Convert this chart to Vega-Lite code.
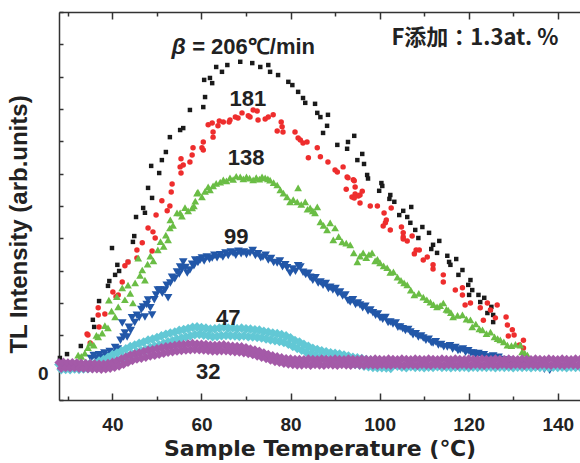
{
"$schema": "https://vega.github.io/schema/vega-lite/v6.json",
"width": 521, "height": 388,
"autosize": {"type": "none"},
"padding": {"left": 59, "top": 12, "right": 0, "bottom": 63},
"background": "white",
"config": {"view": {"stroke": null},
 "axis": {"domainColor": "#333", "domainWidth": 1.5, "tickColor": "#333", "tickWidth": 1.5, "grid": false,
  "labelFont": "Liberation Sans", "labelFontWeight": "bold", "labelFontSize": 19, "labelColor": "#222",
  "titleFont": "Liberation Sans", "titleFontWeight": "bold", "titleFontSize": 24, "titleColor": "#222"}},
"datasets": {
"pts": [
{"s":"206","x":28.2,"y":0.30},{"s":"206","x":29.8,"y":0.42},{"s":"206","x":32.9,"y":0.67},{"s":"206","x":35.6,"y":1.48},{"s":"206","x":35.9,"y":1.26},{"s":"206","x":37.0,"y":2.06},{"s":"206","x":39.0,"y":2.53},{"s":"206","x":39.3,"y":2.68},{"s":"206","x":39.9,"y":3.70},{"s":"206","x":40.6,"y":2.87},{"s":"206","x":41.1,"y":3.18},{"s":"206","x":41.5,"y":2.99},{"s":"206","x":43.5,"y":3.27},{"s":"206","x":44.6,"y":3.89},{"s":"206","x":44.9,"y":4.07},{"s":"206","x":45.3,"y":4.66},{"s":"206","x":46.9,"y":4.94},{"s":"206","x":47.3,"y":4.79},{"s":"206","x":48.0,"y":5.56},{"s":"206","x":48.9,"y":5.25},{"s":"206","x":48.7,"y":6.24},{"s":"206","x":50.5,"y":6.02},{"s":"206","x":51.1,"y":6.42},{"s":"206","x":52.0,"y":6.67},{"s":"206","x":52.9,"y":7.13},{"s":"206","x":55.2,"y":7.35},{"s":"206","x":55.9,"y":7.41},{"s":"206","x":57.4,"y":7.97},{"s":"206","x":60.4,"y":8.06},{"s":"206","x":60.8,"y":8.37},{"s":"206","x":60.6,"y":8.90},{"s":"206","x":61.9,"y":8.96},{"s":"206","x":62.4,"y":8.80},{"s":"206","x":63.3,"y":9.30},{"s":"206","x":64.6,"y":9.15},{"s":"206","x":65.8,"y":9.36},{"s":"206","x":68.7,"y":9.46},{"s":"206","x":71.4,"y":9.42},{"s":"206","x":73.2,"y":9.30},{"s":"206","x":75.0,"y":9.36},{"s":"206","x":75.4,"y":9.15},{"s":"206","x":77.2,"y":9.05},{"s":"206","x":79.5,"y":8.84},{"s":"206","x":80.4,"y":8.74},{"s":"206","x":81.7,"y":8.53},{"s":"206","x":82.8,"y":8.34},{"s":"206","x":83.3,"y":8.19},{"s":"206","x":85.5,"y":8.16},{"s":"206","x":86.0,"y":7.88},{"s":"206","x":86.7,"y":7.75},{"s":"206","x":88.4,"y":7.82},{"s":"206","x":88.2,"y":7.48},{"s":"206","x":87.3,"y":7.26},{"s":"206","x":90.5,"y":6.89},{"s":"206","x":92.9,"y":6.98},{"s":"206","x":92.7,"y":6.77},{"s":"206","x":94.3,"y":7.17},{"s":"206","x":96.1,"y":6.61},{"s":"206","x":95.0,"y":6.42},{"s":"206","x":96.5,"y":6.30},{"s":"206","x":97.2,"y":5.96},{"s":"206","x":97.4,"y":5.85},{"s":"206","x":100.4,"y":5.71},{"s":"206","x":100.6,"y":5.62},{"s":"206","x":99.9,"y":5.47},{"s":"206","x":102.4,"y":5.34},{"s":"206","x":102.2,"y":5.22},{"s":"206","x":103.3,"y":5.13},{"s":"206","x":105.3,"y":4.85},{"s":"206","x":107.1,"y":4.97},{"s":"206","x":104.4,"y":4.72},{"s":"206","x":106.2,"y":4.66},{"s":"206","x":106.9,"y":4.48},{"s":"206","x":109.6,"y":4.35},{"s":"206","x":108.0,"y":4.26},{"s":"206","x":111.1,"y":4.17},{"s":"206","x":108.7,"y":4.01},{"s":"206","x":113.4,"y":3.92},{"s":"206","x":112.0,"y":3.80},{"s":"206","x":111.6,"y":3.67},{"s":"206","x":112.9,"y":3.55},{"s":"206","x":115.2,"y":3.46},{"s":"206","x":117.2,"y":3.36},{"s":"206","x":115.6,"y":3.27},{"s":"206","x":115.9,"y":3.18},{"s":"206","x":118.6,"y":3.02},{"s":"206","x":117.7,"y":2.87},{"s":"206","x":120.4,"y":2.71},{"s":"206","x":119.9,"y":2.56},{"s":"206","x":120.8,"y":2.40},{"s":"206","x":120.1,"y":2.25},{"s":"206","x":122.2,"y":2.25},{"s":"206","x":123.5,"y":2.16},{"s":"206","x":122.6,"y":2.03},{"s":"206","x":125.1,"y":1.88},{"s":"206","x":124.9,"y":1.78},{"s":"206","x":124.2,"y":1.69},{"s":"206","x":125.5,"y":1.63},{"s":"206","x":125.5,"y":1.41},
{"s":"181","x":34.3,"y":1.04},{"s":"181","x":34.5,"y":1.01},{"s":"181","x":35.0,"y":0.76},{"s":"181","x":36.8,"y":1.85},{"s":"181","x":36.8,"y":1.63},{"s":"181","x":37.0,"y":1.26},{"s":"181","x":38.3,"y":1.66},{"s":"181","x":40.1,"y":2.34},{"s":"181","x":40.8,"y":2.19},{"s":"181","x":41.3,"y":2.25},{"s":"181","x":42.2,"y":2.65},{"s":"181","x":42.8,"y":3.15},{"s":"181","x":43.5,"y":3.27},{"s":"181","x":45.5,"y":3.64},{"s":"181","x":45.5,"y":3.39},{"s":"181","x":46.7,"y":3.86},{"s":"181","x":48.0,"y":4.32},{"s":"181","x":48.9,"y":3.61},{"s":"181","x":49.1,"y":4.20},{"s":"181","x":49.6,"y":4.01},{"s":"181","x":49.8,"y":4.72},{"s":"181","x":51.1,"y":5.16},{"s":"181","x":52.3,"y":4.85},{"s":"181","x":52.9,"y":5.00},{"s":"181","x":53.2,"y":5.43},{"s":"181","x":53.4,"y":5.68},{"s":"181","x":55.4,"y":6.46},{"s":"181","x":55.4,"y":6.02},{"s":"181","x":55.2,"y":6.21},{"s":"181","x":55.9,"y":6.27},{"s":"181","x":57.4,"y":6.36},{"s":"181","x":57.9,"y":6.58},{"s":"181","x":58.1,"y":6.80},{"s":"181","x":60.1,"y":6.80},{"s":"181","x":60.4,"y":6.98},{"s":"181","x":60.4,"y":6.73},{"s":"181","x":61.5,"y":7.51},{"s":"181","x":62.4,"y":7.57},{"s":"181","x":62.6,"y":7.29},{"s":"181","x":62.6,"y":7.13},{"s":"181","x":63.7,"y":7.48},{"s":"181","x":64.0,"y":7.63},{"s":"181","x":64.9,"y":7.60},{"s":"181","x":66.2,"y":7.60},{"s":"181","x":66.4,"y":7.66},{"s":"181","x":67.6,"y":7.75},{"s":"181","x":68.2,"y":7.72},{"s":"181","x":69.1,"y":7.88},{"s":"181","x":70.5,"y":7.79},{"s":"181","x":70.9,"y":7.75},{"s":"181","x":71.6,"y":7.97},{"s":"181","x":72.5,"y":7.94},{"s":"181","x":72.7,"y":7.66},{"s":"181","x":74.3,"y":7.69},{"s":"181","x":75.0,"y":7.75},{"s":"181","x":76.1,"y":7.82},{"s":"181","x":77.0,"y":7.32},{"s":"181","x":77.9,"y":7.60},{"s":"181","x":78.1,"y":7.45},{"s":"181","x":78.3,"y":7.29},{"s":"181","x":81.0,"y":7.29},{"s":"181","x":81.7,"y":7.10},{"s":"181","x":82.2,"y":7.04},{"s":"181","x":82.8,"y":6.95},{"s":"181","x":83.7,"y":6.98},{"s":"181","x":84.0,"y":6.49},{"s":"181","x":86.0,"y":6.80},{"s":"181","x":86.7,"y":6.52},{"s":"181","x":88.4,"y":6.36},{"s":"181","x":90.0,"y":6.11},{"s":"181","x":90.5,"y":6.05},{"s":"181","x":91.8,"y":6.21},{"s":"181","x":92.7,"y":5.90},{"s":"181","x":92.9,"y":5.87},{"s":"181","x":92.5,"y":5.52},{"s":"181","x":94.1,"y":5.81},{"s":"181","x":94.3,"y":5.78},{"s":"181","x":94.5,"y":5.59},{"s":"181","x":93.8,"y":5.28},{"s":"181","x":94.5,"y":5.37},{"s":"181","x":95.2,"y":5.31},{"s":"181","x":94.3,"y":5.25},{"s":"181","x":95.6,"y":5.34},{"s":"181","x":96.1,"y":5.46},{"s":"181","x":95.6,"y":5.09},{"s":"181","x":97.9,"y":5.00},{"s":"181","x":99.5,"y":5.00},{"s":"181","x":101.0,"y":4.78},{"s":"181","x":101.5,"y":4.57},{"s":"181","x":101.3,"y":4.48},{"s":"181","x":100.8,"y":4.38},{"s":"181","x":102.6,"y":4.94},{"s":"181","x":102.4,"y":4.26},{"s":"181","x":104.9,"y":4.35},{"s":"181","x":105.3,"y":4.17},{"s":"181","x":105.3,"y":4.04},{"s":"181","x":105.3,"y":3.98},{"s":"181","x":106.2,"y":3.92},{"s":"181","x":107.3,"y":4.07},{"s":"181","x":108.2,"y":3.64},{"s":"181","x":108.9,"y":3.64},{"s":"181","x":107.8,"y":3.52},{"s":"181","x":110.7,"y":3.42},{"s":"181","x":109.8,"y":3.33},{"s":"181","x":112.0,"y":3.18},{"s":"181","x":112.0,"y":3.05},{"s":"181","x":114.3,"y":2.87},{"s":"181","x":114.3,"y":2.65},{"s":"181","x":117.0,"y":2.40},{"s":"181","x":118.6,"y":2.47},{"s":"181","x":118.6,"y":2.25},{"s":"181","x":120.4,"y":2.00},{"s":"181","x":119.2,"y":1.94},{"s":"181","x":122.6,"y":1.85},{"s":"181","x":124.2,"y":2.00},{"s":"181","x":124.9,"y":1.78},{"s":"181","x":126.4,"y":1.94},{"s":"181","x":123.3,"y":1.47},{"s":"181","x":126.0,"y":1.54},{"s":"181","x":128.4,"y":1.57},{"s":"181","x":128.7,"y":1.32},{"s":"181","x":129.8,"y":1.17},{"s":"181","x":130.2,"y":1.01},{"s":"181","x":128.9,"y":0.98},{"s":"181","x":132.3,"y":0.85},{"s":"181","x":131.4,"y":0.70},{"s":"181","x":132.3,"y":0.61},
{"s":"138","x":32.3,"y":0.39},{"s":"138","x":33.0,"y":0.35},{"s":"138","x":33.8,"y":0.45},{"s":"138","x":34.5,"y":0.62},{"s":"138","x":35.0,"y":0.76},{"s":"138","x":35.8,"y":0.70},{"s":"138","x":36.4,"y":1.00},{"s":"138","x":36.8,"y":0.95},{"s":"138","x":37.7,"y":1.07},{"s":"138","x":38.3,"y":1.30},{"s":"138","x":39.0,"y":1.23},{"s":"138","x":39.2,"y":2.09},{"s":"138","x":39.8,"y":1.75},{"s":"138","x":40.6,"y":1.57},{"s":"138","x":41.0,"y":2.20},{"s":"138","x":41.3,"y":1.88},{"s":"138","x":42.2,"y":2.47},{"s":"138","x":42.8,"y":2.10},{"s":"138","x":43.5,"y":2.55},{"s":"138","x":44.0,"y":2.30},{"s":"138","x":44.6,"y":2.00},{"s":"138","x":45.1,"y":2.62},{"s":"138","x":45.8,"y":3.39},{"s":"138","x":46.2,"y":2.85},{"s":"138","x":46.7,"y":3.02},{"s":"138","x":47.3,"y":2.71},{"s":"138","x":47.9,"y":3.20},{"s":"138","x":48.5,"y":3.45},{"s":"138","x":49.2,"y":3.30},{"s":"138","x":50.2,"y":3.64},{"s":"138","x":50.8,"y":3.90},{"s":"138","x":51.5,"y":3.75},{"s":"138","x":52.0,"y":4.10},{"s":"138","x":52.5,"y":3.95},{"s":"138","x":52.9,"y":4.32},{"s":"138","x":53.0,"y":4.57},{"s":"138","x":53.6,"y":4.40},{"s":"138","x":54.5,"y":4.79},{"s":"138","x":55.2,"y":4.79},{"s":"138","x":55.6,"y":4.69},{"s":"138","x":56.3,"y":4.95},{"s":"138","x":57.0,"y":4.85},{"s":"138","x":57.9,"y":4.94},{"s":"138","x":58.3,"y":5.00},{"s":"138","x":58.6,"y":5.15},{"s":"138","x":59.0,"y":5.40},{"s":"138","x":59.2,"y":5.43},{"s":"138","x":60.1,"y":5.28},{"s":"138","x":60.8,"y":5.45},{"s":"138","x":61.5,"y":5.59},{"s":"138","x":61.9,"y":5.50},{"s":"138","x":62.6,"y":5.62},{"s":"138","x":63.3,"y":5.70},{"s":"138","x":64.2,"y":5.74},{"s":"138","x":64.9,"y":5.81},{"s":"138","x":65.6,"y":5.78},{"s":"138","x":66.4,"y":5.87},{"s":"138","x":67.1,"y":5.82},{"s":"138","x":67.8,"y":5.92},{"s":"138","x":68.7,"y":5.90},{"s":"138","x":69.4,"y":5.84},{"s":"138","x":70.1,"y":5.90},{"s":"138","x":70.8,"y":5.86},{"s":"138","x":71.6,"y":5.81},{"s":"138","x":72.3,"y":5.88},{"s":"138","x":73.0,"y":5.83},{"s":"138","x":73.6,"y":5.90},{"s":"138","x":74.3,"y":5.87},{"s":"138","x":74.9,"y":5.84},{"s":"138","x":75.4,"y":5.80},{"s":"138","x":76.2,"y":5.72},{"s":"138","x":77.0,"y":5.65},{"s":"138","x":77.7,"y":5.50},{"s":"138","x":78.4,"y":5.40},{"s":"138","x":79.2,"y":5.28},{"s":"138","x":79.9,"y":5.13},{"s":"138","x":80.6,"y":5.20},{"s":"138","x":81.5,"y":5.13},{"s":"138","x":81.7,"y":5.56},{"s":"138","x":82.4,"y":5.05},{"s":"138","x":83.3,"y":5.13},{"s":"138","x":83.8,"y":4.90},{"s":"138","x":84.4,"y":4.94},{"s":"138","x":85.0,"y":4.85},{"s":"138","x":85.5,"y":4.79},{"s":"138","x":86.0,"y":4.97},{"s":"138","x":86.7,"y":4.51},{"s":"138","x":87.4,"y":4.40},{"s":"138","x":88.2,"y":4.26},{"s":"138","x":88.9,"y":4.48},{"s":"138","x":89.6,"y":3.95},{"s":"138","x":90.0,"y":4.32},{"s":"138","x":90.8,"y":4.05},{"s":"138","x":91.6,"y":3.89},{"s":"138","x":92.5,"y":3.85},{"s":"138","x":93.4,"y":3.80},{"s":"138","x":94.2,"y":3.55},{"s":"138","x":95.0,"y":3.27},{"s":"138","x":95.6,"y":3.45},{"s":"138","x":96.3,"y":3.55},{"s":"138","x":97.0,"y":3.40},{"s":"138","x":97.6,"y":3.50},{"s":"138","x":98.3,"y":3.55},{"s":"138","x":99.0,"y":3.30},{"s":"138","x":99.5,"y":3.35},{"s":"138","x":100.1,"y":3.24},{"s":"138","x":100.9,"y":3.15},{"s":"138","x":101.7,"y":3.09},{"s":"138","x":102.4,"y":2.95},{"s":"138","x":103.1,"y":2.96},{"s":"138","x":104.0,"y":2.80},{"s":"138","x":104.8,"y":2.70},{"s":"138","x":105.5,"y":2.62},{"s":"138","x":106.2,"y":2.56},{"s":"138","x":107.0,"y":2.40},{"s":"138","x":107.8,"y":2.25},{"s":"138","x":108.8,"y":2.30},{"s":"138","x":109.8,"y":2.18},{"s":"138","x":110.6,"y":2.10},{"s":"138","x":111.4,"y":2.03},{"s":"138","x":112.1,"y":1.95},{"s":"138","x":112.9,"y":1.88},{"s":"138","x":113.6,"y":1.92},{"s":"138","x":114.3,"y":2.00},{"s":"138","x":115.0,"y":1.80},{"s":"138","x":115.4,"y":1.78},{"s":"138","x":116.0,"y":1.70},{"s":"138","x":116.5,"y":1.57},{"s":"138","x":117.5,"y":1.62},{"s":"138","x":118.6,"y":1.63},{"s":"138","x":119.5,"y":1.50},{"s":"138","x":120.4,"y":1.48},{"s":"138","x":120.8,"y":1.26},{"s":"138","x":121.6,"y":1.35},{"s":"138","x":122.4,"y":1.20},{"s":"138","x":123.1,"y":1.17},{"s":"138","x":124.0,"y":1.05},{"s":"138","x":124.9,"y":1.10},{"s":"138","x":125.8,"y":0.95},{"s":"138","x":126.5,"y":0.90},{"s":"138","x":127.1,"y":0.86},{"s":"138","x":127.9,"y":0.80},{"s":"138","x":128.7,"y":0.70},{"s":"138","x":129.6,"y":0.68},{"s":"138","x":130.5,"y":0.72},{"s":"138","x":131.6,"y":0.70},{"s":"138","x":132.0,"y":0.49},{"s":"138","x":132.6,"y":0.45},{"s":"138","x":133.2,"y":0.39},
{"s":"99","x":35.2,"y":0.28},{"s":"99","x":35.8,"y":0.38},{"s":"99","x":36.4,"y":0.30},{"s":"99","x":37.0,"y":0.40},{"s":"99","x":37.6,"y":0.33},{"s":"99","x":38.2,"y":0.45},{"s":"99","x":38.8,"y":0.38},{"s":"99","x":39.4,"y":0.50},{"s":"99","x":40.0,"y":0.45},{"s":"99","x":40.6,"y":0.62},{"s":"99","x":41.2,"y":0.58},{"s":"99","x":41.8,"y":0.85},{"s":"99","x":42.2,"y":1.38},{"s":"99","x":42.5,"y":0.95},{"s":"99","x":42.8,"y":1.07},{"s":"99","x":43.3,"y":0.95},{"s":"99","x":43.7,"y":1.25},{"s":"99","x":44.1,"y":1.15},{"s":"99","x":44.4,"y":1.54},{"s":"99","x":45.0,"y":1.40},{"s":"99","x":45.5,"y":1.62},{"s":"99","x":46.0,"y":1.55},{"s":"99","x":46.5,"y":1.80},{"s":"99","x":46.9,"y":1.88},{"s":"99","x":47.3,"y":1.57},{"s":"99","x":47.7,"y":1.95},{"s":"99","x":48.0,"y":2.09},{"s":"99","x":48.5,"y":1.85},{"s":"99","x":48.9,"y":1.63},{"s":"99","x":49.4,"y":2.10},{"s":"99","x":49.8,"y":2.25},{"s":"99","x":50.2,"y":2.40},{"s":"99","x":50.7,"y":2.40},{"s":"99","x":51.2,"y":2.30},{"s":"99","x":51.8,"y":2.40},{"s":"99","x":52.2,"y":2.55},{"s":"99","x":52.5,"y":2.16},{"s":"99","x":53.0,"y":2.62},{"s":"99","x":53.4,"y":2.80},{"s":"99","x":54.0,"y":2.75},{"s":"99","x":54.5,"y":2.96},{"s":"99","x":55.0,"y":2.90},{"s":"99","x":55.2,"y":3.11},{"s":"99","x":55.6,"y":3.05},{"s":"99","x":55.9,"y":3.27},{"s":"99","x":56.4,"y":3.10},{"s":"99","x":56.8,"y":2.93},{"s":"99","x":57.4,"y":3.02},{"s":"99","x":57.9,"y":3.20},{"s":"99","x":58.3,"y":3.15},{"s":"99","x":58.6,"y":3.33},{"s":"99","x":59.2,"y":3.25},{"s":"99","x":59.7,"y":3.33},{"s":"99","x":60.1,"y":3.39},{"s":"99","x":60.6,"y":3.30},{"s":"99","x":61.2,"y":3.42},{"s":"99","x":61.8,"y":3.35},{"s":"99","x":62.4,"y":3.39},{"s":"99","x":62.9,"y":3.48},{"s":"99","x":63.5,"y":3.40},{"s":"99","x":64.2,"y":3.49},{"s":"99","x":64.8,"y":3.42},{"s":"99","x":65.4,"y":3.55},{"s":"99","x":66.0,"y":3.47},{"s":"99","x":66.6,"y":3.58},{"s":"99","x":67.1,"y":3.55},{"s":"99","x":67.7,"y":3.48},{"s":"99","x":68.3,"y":3.60},{"s":"99","x":68.9,"y":3.52},{"s":"99","x":69.5,"y":3.58},{"s":"99","x":70.1,"y":3.50},{"s":"99","x":70.9,"y":3.55},{"s":"99","x":71.5,"y":3.62},{"s":"99","x":72.1,"y":3.47},{"s":"99","x":72.7,"y":3.52},{"s":"99","x":73.3,"y":3.40},{"s":"99","x":73.8,"y":3.42},{"s":"99","x":74.4,"y":3.48},{"s":"99","x":75.0,"y":3.33},{"s":"99","x":75.6,"y":3.38},{"s":"99","x":76.2,"y":3.25},{"s":"99","x":77.0,"y":3.24},{"s":"99","x":77.6,"y":3.30},{"s":"99","x":78.2,"y":3.12},{"s":"99","x":78.8,"y":3.18},{"s":"99","x":79.2,"y":3.09},{"s":"99","x":79.9,"y":2.93},{"s":"99","x":80.5,"y":3.05},{"s":"99","x":81.1,"y":2.98},{"s":"99","x":81.7,"y":3.15},{"s":"99","x":82.2,"y":3.11},{"s":"99","x":82.8,"y":2.95},{"s":"99","x":83.4,"y":2.88},{"s":"99","x":84.0,"y":2.92},{"s":"99","x":84.4,"y":2.80},{"s":"99","x":85.0,"y":2.70},{"s":"99","x":85.6,"y":2.78},{"s":"99","x":86.2,"y":2.62},{"s":"99","x":86.7,"y":2.65},{"s":"99","x":87.3,"y":2.55},{"s":"99","x":87.9,"y":2.60},{"s":"99","x":88.5,"y":2.45},{"s":"99","x":88.9,"y":2.49},{"s":"99","x":89.5,"y":2.40},{"s":"99","x":90.1,"y":2.45},{"s":"99","x":90.6,"y":2.30},{"s":"99","x":91.1,"y":2.34},{"s":"99","x":91.7,"y":2.22},{"s":"99","x":92.3,"y":2.25},{"s":"99","x":92.9,"y":2.08},{"s":"99","x":93.4,"y":2.03},{"s":"99","x":94.0,"y":2.10},{"s":"99","x":94.6,"y":1.95},{"s":"99","x":95.1,"y":2.00},{"s":"99","x":95.6,"y":1.94},{"s":"99","x":96.2,"y":1.85},{"s":"99","x":96.8,"y":1.90},{"s":"99","x":97.4,"y":1.75},{"s":"99","x":97.9,"y":1.78},{"s":"99","x":98.5,"y":1.70},{"s":"99","x":99.1,"y":1.62},{"s":"99","x":99.6,"y":1.66},{"s":"99","x":100.1,"y":1.54},{"s":"99","x":100.7,"y":1.50},{"s":"99","x":101.3,"y":1.55},{"s":"99","x":101.9,"y":1.40},{"s":"99","x":102.4,"y":1.41},{"s":"99","x":103.0,"y":1.35},{"s":"99","x":103.6,"y":1.38},{"s":"99","x":104.1,"y":1.25},{"s":"99","x":104.6,"y":1.26},{"s":"99","x":105.2,"y":1.20},{"s":"99","x":105.8,"y":1.15},{"s":"99","x":106.4,"y":1.18},{"s":"99","x":106.9,"y":1.10},{"s":"99","x":107.5,"y":1.02},{"s":"99","x":108.1,"y":1.05},{"s":"99","x":108.7,"y":0.95},{"s":"99","x":109.3,"y":0.98},{"s":"99","x":109.8,"y":0.92},{"s":"99","x":110.4,"y":0.85},{"s":"99","x":111.0,"y":0.88},{"s":"99","x":111.6,"y":0.78},{"s":"99","x":112.0,"y":0.76},{"s":"99","x":112.6,"y":0.80},{"s":"99","x":113.2,"y":0.70},{"s":"99","x":113.8,"y":0.72},{"s":"99","x":114.4,"y":0.65},{"s":"99","x":115.2,"y":0.64},{"s":"99","x":115.8,"y":0.68},{"s":"99","x":116.4,"y":0.58},{"s":"99","x":117.0,"y":0.62},{"s":"99","x":117.6,"y":0.53},{"s":"99","x":118.1,"y":0.55},{"s":"99","x":118.7,"y":0.58},{"s":"99","x":119.3,"y":0.48},{"s":"99","x":119.9,"y":0.52},{"s":"99","x":120.5,"y":0.45},{"s":"99","x":121.0,"y":0.45},{"s":"99","x":121.6,"y":0.40},{"s":"99","x":122.2,"y":0.44},{"s":"99","x":122.8,"y":0.38},{"s":"99","x":123.4,"y":0.40},{"s":"99","x":124.0,"y":0.32},{"s":"99","x":124.9,"y":0.33},{"s":"99","x":125.5,"y":0.36},{"s":"99","x":126.1,"y":0.28},{"s":"99","x":126.7,"y":0.32},{"s":"99","x":127.3,"y":0.25},{"s":"99","x":127.9,"y":0.22},{"s":"99","x":128.7,"y":0.24},{"s":"99","x":129.3,"y":0.18},{"s":"99","x":129.9,"y":0.20},{"s":"99","x":130.5,"y":0.14},{"s":"99","x":131.1,"y":0.18},{"s":"99","x":131.7,"y":0.12},{"s":"99","x":132.3,"y":0.18},{"s":"99","x":133.0,"y":0.08},{"s":"99","x":134.0,"y":0.10},{"s":"99","x":135.0,"y":0.05},{"s":"99","x":136.0,"y":0.02},{"s":"99","x":137.0,"y":-0.05},{"s":"99","x":137.7,"y":0.02},{"s":"99","x":138.2,"y":-0.08},
{"s":"47","x":28.0,"y":0.10},{"s":"47","x":28.5,"y":-0.06},{"s":"47","x":29.0,"y":0.08},{"s":"47","x":29.5,"y":-0.05},{"s":"47","x":30.0,"y":0.09},{"s":"47","x":30.5,"y":-0.06},{"s":"47","x":31.0,"y":0.10},{"s":"47","x":31.5,"y":-0.04},{"s":"47","x":32.0,"y":0.11},{"s":"47","x":32.5,"y":-0.05},{"s":"47","x":33.0,"y":0.10},{"s":"47","x":33.5,"y":-0.04},{"s":"47","x":34.0,"y":0.12},{"s":"47","x":34.5,"y":-0.03},{"s":"47","x":35.0,"y":0.13},{"s":"47","x":35.5,"y":-0.02},{"s":"47","x":36.0,"y":0.13},{"s":"47","x":36.5,"y":-0.01},{"s":"47","x":37.0,"y":0.20},{"s":"47","x":37.5,"y":0.02},{"s":"47","x":38.0,"y":0.25},{"s":"47","x":38.5,"y":0.06},{"s":"47","x":39.0,"y":0.32},{"s":"47","x":39.5,"y":0.12},{"s":"47","x":40.0,"y":0.40},{"s":"47","x":40.5,"y":0.20},{"s":"47","x":41.0,"y":0.45},{"s":"47","x":41.5,"y":0.24},{"s":"47","x":42.0,"y":0.52},{"s":"47","x":42.5,"y":0.32},{"s":"47","x":43.0,"y":0.58},{"s":"47","x":43.5,"y":0.36},{"s":"47","x":44.0,"y":0.65},{"s":"47","x":44.5,"y":0.42},{"s":"47","x":45.0,"y":0.70},{"s":"47","x":45.5,"y":0.48},{"s":"47","x":46.0,"y":0.75},{"s":"47","x":46.5,"y":0.52},{"s":"47","x":47.0,"y":0.79},{"s":"47","x":47.5,"y":0.56},{"s":"47","x":48.0,"y":0.85},{"s":"47","x":48.5,"y":0.62},{"s":"47","x":49.0,"y":0.88},{"s":"47","x":49.5,"y":0.66},{"s":"47","x":50.0,"y":0.93},{"s":"47","x":50.5,"y":0.70},{"s":"47","x":51.0,"y":0.98},{"s":"47","x":51.5,"y":0.75},{"s":"47","x":52.0,"y":1.03},{"s":"47","x":52.5,"y":0.80},{"s":"47","x":53.0,"y":1.07},{"s":"47","x":53.5,"y":0.83},{"s":"47","x":54.0,"y":1.10},{"s":"47","x":54.5,"y":0.88},{"s":"47","x":55.0,"y":1.15},{"s":"47","x":55.5,"y":0.92},{"s":"47","x":56.0,"y":1.18},{"s":"47","x":56.5,"y":0.95},{"s":"47","x":57.0,"y":1.21},{"s":"47","x":57.5,"y":0.98},{"s":"47","x":58.0,"y":1.25},{"s":"47","x":58.5,"y":1.02},{"s":"47","x":59.0,"y":1.26},{"s":"47","x":59.5,"y":1.03},{"s":"47","x":60.0,"y":1.24},{"s":"47","x":60.5,"y":1.01},{"s":"47","x":61.0,"y":1.22},{"s":"47","x":61.5,"y":0.99},{"s":"47","x":62.0,"y":1.19},{"s":"47","x":62.5,"y":0.96},{"s":"47","x":63.0,"y":1.20},{"s":"47","x":63.5,"y":0.97},{"s":"47","x":64.0,"y":1.22},{"s":"47","x":64.5,"y":0.99},{"s":"47","x":65.0,"y":1.25},{"s":"47","x":65.5,"y":1.00},{"s":"47","x":66.0,"y":1.22},{"s":"47","x":66.5,"y":0.99},{"s":"47","x":67.0,"y":1.23},{"s":"47","x":67.5,"y":0.98},{"s":"47","x":68.0,"y":1.20},{"s":"47","x":68.5,"y":0.97},{"s":"47","x":69.0,"y":1.22},{"s":"47","x":69.5,"y":0.98},{"s":"47","x":70.0,"y":1.20},{"s":"47","x":70.5,"y":0.96},{"s":"47","x":71.0,"y":1.19},{"s":"47","x":71.5,"y":0.95},{"s":"47","x":72.0,"y":1.17},{"s":"47","x":72.5,"y":0.94},{"s":"47","x":73.0,"y":1.16},{"s":"47","x":73.5,"y":0.92},{"s":"47","x":74.0,"y":1.12},{"s":"47","x":74.5,"y":0.89},{"s":"47","x":75.0,"y":1.10},{"s":"47","x":75.5,"y":0.86},{"s":"47","x":76.0,"y":1.07},{"s":"47","x":76.5,"y":0.84},{"s":"47","x":77.0,"y":1.05},{"s":"47","x":77.5,"y":0.81},{"s":"47","x":78.0,"y":1.02},{"s":"47","x":78.5,"y":0.78},{"s":"47","x":79.0,"y":0.98},{"s":"47","x":79.5,"y":0.73},{"s":"47","x":80.0,"y":0.92},{"s":"47","x":80.5,"y":0.66},{"s":"47","x":81.0,"y":0.84},{"s":"47","x":81.5,"y":0.60},{"s":"47","x":82.0,"y":0.79},{"s":"47","x":82.5,"y":0.54},{"s":"47","x":83.0,"y":0.72},{"s":"47","x":83.5,"y":0.48},{"s":"47","x":84.0,"y":0.66},{"s":"47","x":84.5,"y":0.42},{"s":"47","x":85.0,"y":0.60},{"s":"47","x":85.5,"y":0.37},{"s":"47","x":86.0,"y":0.56},{"s":"47","x":86.5,"y":0.33},{"s":"47","x":87.0,"y":0.52},{"s":"47","x":87.5,"y":0.29},{"s":"47","x":88.0,"y":0.49},{"s":"47","x":88.5,"y":0.26},{"s":"47","x":89.0,"y":0.46},{"s":"47","x":89.5,"y":0.23},{"s":"47","x":90.0,"y":0.44},{"s":"47","x":90.5,"y":0.21},{"s":"47","x":91.0,"y":0.42},{"s":"47","x":91.5,"y":0.19},{"s":"47","x":92.0,"y":0.39},{"s":"47","x":92.5,"y":0.16},{"s":"47","x":93.0,"y":0.36},{"s":"47","x":93.5,"y":0.13},{"s":"47","x":94.0,"y":0.32},{"s":"47","x":94.5,"y":0.10},{"s":"47","x":95.0,"y":0.30},{"s":"47","x":95.5,"y":0.08},{"s":"47","x":96.0,"y":0.28},{"s":"47","x":96.5,"y":0.05},{"s":"47","x":97.0,"y":0.25},{"s":"47","x":97.5,"y":0.03},{"s":"47","x":98.0,"y":0.23},{"s":"47","x":98.5,"y":0.01},{"s":"47","x":99.0,"y":0.22},{"s":"47","x":99.5,"y":0.00},{"s":"47","x":100.0,"y":0.20},{"s":"47","x":100.5,"y":0.00},{"s":"47","x":101.0,"y":0.19},{"s":"47","x":101.5,"y":-0.01},{"s":"47","x":102.0,"y":0.18},{"s":"47","x":102.5,"y":-0.02},{"s":"47","x":103.0,"y":0.15},{"s":"47","x":104.0,"y":0.05},{"s":"47","x":105.0,"y":0.02},{"s":"47","x":106.0,"y":0.00},{"s":"47","x":107.0,"y":0.03},{"s":"47","x":108.0,"y":0.01},{"s":"47","x":109.0,"y":0.02},{"s":"47","x":110.0,"y":0.00},{"s":"47","x":111.0,"y":0.02},{"s":"47","x":112.0,"y":0.01},{"s":"47","x":113.0,"y":0.03},{"s":"47","x":114.0,"y":0.01},{"s":"47","x":115.0,"y":0.02},{"s":"47","x":116.0,"y":0.00},{"s":"47","x":117.0,"y":0.02},{"s":"47","x":118.0,"y":0.01},{"s":"47","x":119.0,"y":0.02},{"s":"47","x":120.0,"y":0.00},{"s":"47","x":121.0,"y":0.02},{"s":"47","x":122.0,"y":0.01},{"s":"47","x":123.0,"y":0.02},{"s":"47","x":124.0,"y":0.01},{"s":"47","x":125.0,"y":0.02},{"s":"47","x":126.0,"y":0.00},{"s":"47","x":127.0,"y":0.02},{"s":"47","x":128.0,"y":0.01},{"s":"47","x":129.0,"y":0.02},{"s":"47","x":130.0,"y":0.00},{"s":"47","x":131.0,"y":0.02},{"s":"47","x":132.0,"y":0.01},{"s":"47","x":133.0,"y":0.02},{"s":"47","x":134.0,"y":0.00},{"s":"47","x":135.0,"y":0.02},{"s":"47","x":136.0,"y":0.01},{"s":"47","x":137.0,"y":0.02},{"s":"47","x":138.0,"y":0.00},{"s":"47","x":139.0,"y":0.02},{"s":"47","x":140.0,"y":0.01},{"s":"47","x":141.0,"y":0.02},{"s":"47","x":142.0,"y":0.00},{"s":"47","x":143.0,"y":0.02},{"s":"47","x":144.0,"y":0.01},{"s":"47","x":145.0,"y":0.02},
{"s":"32","x":28.0,"y":0.16},{"s":"32","x":28.5,"y":-0.02},{"s":"32","x":29.0,"y":0.17},{"s":"32","x":29.5,"y":0.00},{"s":"32","x":30.0,"y":0.15},{"s":"32","x":30.5,"y":-0.01},{"s":"32","x":31.0,"y":0.16},{"s":"32","x":31.5,"y":0.00},{"s":"32","x":32.0,"y":0.15},{"s":"32","x":32.5,"y":-0.02},{"s":"32","x":33.0,"y":0.14},{"s":"32","x":33.5,"y":-0.02},{"s":"32","x":34.0,"y":0.13},{"s":"32","x":34.5,"y":-0.03},{"s":"32","x":35.0,"y":0.13},{"s":"32","x":35.5,"y":-0.04},{"s":"32","x":36.0,"y":0.12},{"s":"32","x":36.5,"y":-0.04},{"s":"32","x":37.0,"y":0.11},{"s":"32","x":37.5,"y":-0.05},{"s":"32","x":38.0,"y":0.11},{"s":"32","x":38.5,"y":-0.04},{"s":"32","x":39.0,"y":0.13},{"s":"32","x":39.5,"y":-0.02},{"s":"32","x":40.0,"y":0.17},{"s":"32","x":40.5,"y":0.01},{"s":"32","x":41.0,"y":0.21},{"s":"32","x":41.5,"y":0.05},{"s":"32","x":42.0,"y":0.27},{"s":"32","x":42.5,"y":0.10},{"s":"32","x":43.0,"y":0.33},{"s":"32","x":43.5,"y":0.16},{"s":"32","x":44.0,"y":0.39},{"s":"32","x":44.5,"y":0.22},{"s":"32","x":45.0,"y":0.43},{"s":"32","x":45.5,"y":0.26},{"s":"32","x":46.0,"y":0.46},{"s":"32","x":46.5,"y":0.29},{"s":"32","x":47.0,"y":0.50},{"s":"32","x":47.5,"y":0.32},{"s":"32","x":48.0,"y":0.54},{"s":"32","x":48.5,"y":0.36},{"s":"32","x":49.0,"y":0.56},{"s":"32","x":49.5,"y":0.38},{"s":"32","x":50.0,"y":0.59},{"s":"32","x":50.5,"y":0.41},{"s":"32","x":51.0,"y":0.62},{"s":"32","x":51.5,"y":0.44},{"s":"32","x":52.0,"y":0.65},{"s":"32","x":52.5,"y":0.47},{"s":"32","x":53.0,"y":0.67},{"s":"32","x":53.5,"y":0.49},{"s":"32","x":54.0,"y":0.69},{"s":"32","x":54.5,"y":0.51},{"s":"32","x":55.0,"y":0.71},{"s":"32","x":55.5,"y":0.53},{"s":"32","x":56.0,"y":0.72},{"s":"32","x":56.5,"y":0.54},{"s":"32","x":57.0,"y":0.74},{"s":"32","x":57.5,"y":0.55},{"s":"32","x":58.0,"y":0.75},{"s":"32","x":58.5,"y":0.56},{"s":"32","x":59.0,"y":0.74},{"s":"32","x":59.5,"y":0.55},{"s":"32","x":60.0,"y":0.73},{"s":"32","x":60.5,"y":0.54},{"s":"32","x":61.0,"y":0.72},{"s":"32","x":61.5,"y":0.53},{"s":"32","x":62.0,"y":0.70},{"s":"32","x":62.5,"y":0.51},{"s":"32","x":63.0,"y":0.69},{"s":"32","x":63.5,"y":0.51},{"s":"32","x":64.0,"y":0.70},{"s":"32","x":64.5,"y":0.52},{"s":"32","x":65.0,"y":0.71},{"s":"32","x":65.5,"y":0.52},{"s":"32","x":66.0,"y":0.68},{"s":"32","x":66.5,"y":0.50},{"s":"32","x":67.0,"y":0.67},{"s":"32","x":67.5,"y":0.49},{"s":"32","x":68.0,"y":0.66},{"s":"32","x":68.5,"y":0.48},{"s":"32","x":69.0,"y":0.65},{"s":"32","x":69.5,"y":0.46},{"s":"32","x":70.0,"y":0.62},{"s":"32","x":70.5,"y":0.43},{"s":"32","x":71.0,"y":0.58},{"s":"32","x":71.5,"y":0.40},{"s":"32","x":72.0,"y":0.55},{"s":"32","x":72.5,"y":0.36},{"s":"32","x":73.0,"y":0.51},{"s":"32","x":73.5,"y":0.32},{"s":"32","x":74.0,"y":0.46},{"s":"32","x":74.5,"y":0.28},{"s":"32","x":75.0,"y":0.41},{"s":"32","x":75.5,"y":0.23},{"s":"32","x":76.0,"y":0.37},{"s":"32","x":76.5,"y":0.19},{"s":"32","x":77.0,"y":0.34},{"s":"32","x":77.5,"y":0.16},{"s":"32","x":78.0,"y":0.31},{"s":"32","x":78.5,"y":0.13},{"s":"32","x":79.0,"y":0.28},{"s":"32","x":79.5,"y":0.11},{"s":"32","x":80.0,"y":0.27},{"s":"32","x":80.5,"y":0.09},{"s":"32","x":81.0,"y":0.26},{"s":"32","x":81.5,"y":0.08},{"s":"32","x":82.0,"y":0.26},{"s":"32","x":82.5,"y":0.08},{"s":"32","x":83.0,"y":0.25},{"s":"32","x":83.5,"y":0.09},{"s":"32","x":84.0,"y":0.27},{"s":"32","x":84.5,"y":0.07},{"s":"32","x":85.0,"y":0.26},{"s":"32","x":85.5,"y":0.09},{"s":"32","x":86.0,"y":0.25},{"s":"32","x":86.5,"y":0.08},{"s":"32","x":87.0,"y":0.27},{"s":"32","x":87.5,"y":0.07},{"s":"32","x":88.0,"y":0.26},{"s":"32","x":88.5,"y":0.09},{"s":"32","x":89.0,"y":0.25},{"s":"32","x":89.5,"y":0.08},{"s":"32","x":90.0,"y":0.27},{"s":"32","x":90.5,"y":0.07},{"s":"32","x":91.0,"y":0.26},{"s":"32","x":91.5,"y":0.09},{"s":"32","x":92.0,"y":0.25},{"s":"32","x":92.5,"y":0.08},{"s":"32","x":93.0,"y":0.27},{"s":"32","x":93.5,"y":0.07},{"s":"32","x":94.0,"y":0.26},{"s":"32","x":94.5,"y":0.09},{"s":"32","x":95.0,"y":0.25},{"s":"32","x":95.5,"y":0.08},{"s":"32","x":96.0,"y":0.27},{"s":"32","x":96.5,"y":0.07},{"s":"32","x":97.0,"y":0.26},{"s":"32","x":97.5,"y":0.09},{"s":"32","x":98.0,"y":0.25},{"s":"32","x":98.5,"y":0.08},{"s":"32","x":99.0,"y":0.27},{"s":"32","x":99.5,"y":0.07},{"s":"32","x":100.0,"y":0.26},{"s":"32","x":100.5,"y":0.09},{"s":"32","x":101.0,"y":0.25},{"s":"32","x":101.5,"y":0.08},{"s":"32","x":102.0,"y":0.27},{"s":"32","x":102.5,"y":0.07},{"s":"32","x":103.0,"y":0.26},{"s":"32","x":103.5,"y":0.09},{"s":"32","x":104.0,"y":0.25},{"s":"32","x":104.5,"y":0.08},{"s":"32","x":105.0,"y":0.27},{"s":"32","x":105.5,"y":0.07},{"s":"32","x":106.0,"y":0.26},{"s":"32","x":106.5,"y":0.09},{"s":"32","x":107.0,"y":0.25},{"s":"32","x":107.5,"y":0.08},{"s":"32","x":108.0,"y":0.27},{"s":"32","x":108.5,"y":0.07},{"s":"32","x":109.0,"y":0.26},{"s":"32","x":109.5,"y":0.09},{"s":"32","x":110.0,"y":0.25},{"s":"32","x":110.5,"y":0.08},{"s":"32","x":111.0,"y":0.27},{"s":"32","x":111.5,"y":0.07},{"s":"32","x":112.0,"y":0.26},{"s":"32","x":112.5,"y":0.09},{"s":"32","x":113.0,"y":0.25},{"s":"32","x":113.5,"y":0.08},{"s":"32","x":114.0,"y":0.27},{"s":"32","x":114.5,"y":0.07},{"s":"32","x":115.0,"y":0.26},{"s":"32","x":115.5,"y":0.09},{"s":"32","x":116.0,"y":0.25},{"s":"32","x":116.5,"y":0.08},{"s":"32","x":117.0,"y":0.27},{"s":"32","x":117.5,"y":0.07},{"s":"32","x":118.0,"y":0.26},{"s":"32","x":118.5,"y":0.09},{"s":"32","x":119.0,"y":0.25},{"s":"32","x":119.5,"y":0.08},{"s":"32","x":120.0,"y":0.27},{"s":"32","x":120.5,"y":0.07},{"s":"32","x":121.0,"y":0.26},{"s":"32","x":121.5,"y":0.09},{"s":"32","x":122.0,"y":0.25},{"s":"32","x":122.5,"y":0.08},{"s":"32","x":123.0,"y":0.27},{"s":"32","x":123.5,"y":0.07},{"s":"32","x":124.0,"y":0.26},{"s":"32","x":124.5,"y":0.09},{"s":"32","x":125.0,"y":0.25},{"s":"32","x":125.5,"y":0.08},{"s":"32","x":126.0,"y":0.27},{"s":"32","x":126.5,"y":0.07},{"s":"32","x":127.0,"y":0.26},{"s":"32","x":127.5,"y":0.09},{"s":"32","x":128.0,"y":0.25},{"s":"32","x":128.5,"y":0.08},{"s":"32","x":129.0,"y":0.27},{"s":"32","x":129.5,"y":0.07},{"s":"32","x":130.0,"y":0.26},{"s":"32","x":130.5,"y":0.09},{"s":"32","x":131.0,"y":0.25},{"s":"32","x":131.5,"y":0.08},{"s":"32","x":132.0,"y":0.27},{"s":"32","x":132.5,"y":0.07},{"s":"32","x":133.0,"y":0.26},{"s":"32","x":133.5,"y":0.09},{"s":"32","x":134.0,"y":0.25},{"s":"32","x":134.5,"y":0.08},{"s":"32","x":135.0,"y":0.27},{"s":"32","x":135.5,"y":0.07},{"s":"32","x":136.0,"y":0.26},{"s":"32","x":136.5,"y":0.09},{"s":"32","x":137.0,"y":0.25},{"s":"32","x":137.5,"y":0.08},{"s":"32","x":138.0,"y":0.27},{"s":"32","x":138.5,"y":0.07},{"s":"32","x":139.0,"y":0.26},{"s":"32","x":139.5,"y":0.09},{"s":"32","x":140.0,"y":0.25},{"s":"32","x":140.5,"y":0.08},{"s":"32","x":141.0,"y":0.27},{"s":"32","x":141.5,"y":0.07},{"s":"32","x":142.0,"y":0.26},{"s":"32","x":142.5,"y":0.09},{"s":"32","x":143.0,"y":0.25},{"s":"32","x":143.5,"y":0.08},{"s":"32","x":144.0,"y":0.27},{"s":"32","x":144.5,"y":0.07},{"s":"32","x":145.0,"y":0.26}
],
"ann": [
{"x":70.4,"y":8.31,"t":"181"},{"x":70.0,"y":6.47,"t":"138"},{"x":67.8,"y":4.04,"t":"99"},{"x":66.0,"y":1.54,"t":"47"},{"x":61.5,"y":-0.13,"t":"32"}
]
},
"layer": [
{"data": {"name": "pts"},
 "mark": {"type": "point", "filled": true, "opacity": 1, "strokeWidth": 0},
 "encoding": {
  "x": {"field": "x", "type": "quantitative", "scale": {"domain": [28, 145], "nice": false, "zero": false},
   "axis": {"orient": "bottom", "values": [40, 60, 80, 100, 120, 140], "tickSize": -7, "labelPadding": 22, "title": "Sample Temperature (℃)", "titleFont": "DejaVu Sans", "titleFontSize": 22, "titlePadding": 4}},
  "y": {"field": "y", "type": "quantitative", "scale": {"domain": [-1, 11], "nice": false, "zero": false},
   "axis": {"orient": "left", "values": [-1, 0, 1, 2, 3, 4, 5, 6, 7, 8, 9, 10, 11], "tickSize": -4, "labelExpr": "datum.value == 0 ? '0' : ''", "labelPadding": 15, "labelOffset": 6, "title": "TL Intensity (arb.units)", "titlePadding": 6, "titleY": 212}},
  "shape": {"field": "s", "type": "nominal", "legend": null, "scale": {"domain": ["206", "181", "138", "99", "47", "32"], "range": ["square", "circle", "triangle-up", "triangle-down", "diamond", "diamond"]}},
  "color": {"field": "s", "type": "nominal", "legend": null, "scale": {"domain": ["206", "181", "138", "99", "47", "32"], "range": ["#1a1a1a", "#ee2d2d", "#6abd45", "#2257a8", "#62c8d5", "#a45aa8"]}},
  "size": {"field": "s", "type": "nominal", "legend": null, "scale": {"type": "ordinal", "domain": ["206", "181", "138", "99", "47", "32"], "range": [20, 30, 60, 75, 95, 85]}}
 }},
{"data": {"values": [{"x": 30, "y": 0}]},
 "mark": {"type": "point", "opacity": 0},
 "encoding": {
  "x": {"field": "x", "type": "quantitative", "scale": {"domain": [28, 145], "nice": false, "zero": false},
   "axis": {"orient": "bottom", "values": [30, 50, 70, 90, 110, 130], "tickSize": -4, "labels": false, "domain": false, "title": null}},
  "y": {"field": "y", "type": "quantitative", "scale": {"domain": [-1, 11], "nice": false, "zero": false}, "axis": null}
 }},
{"data": {"values": [{"x": 30, "y": 0}]},
 "mark": {"type": "point", "opacity": 0},
 "encoding": {
  "x": {"field": "x", "type": "quantitative", "scale": {"domain": [28, 145], "nice": false, "zero": false},
   "axis": {"orient": "top", "values": [40, 60, 80, 100, 120, 140], "tickSize": -7, "labels": false, "title": null}},
  "y": {"field": "y", "type": "quantitative", "scale": {"domain": [-1, 11], "nice": false, "zero": false}, "axis": null}
 }},
{"data": {"values": [{"x": 30, "y": 0}]},
 "mark": {"type": "point", "opacity": 0},
 "encoding": {
  "x": {"field": "x", "type": "quantitative", "scale": {"domain": [28, 145], "nice": false, "zero": false},
   "axis": {"orient": "top", "values": [30, 50, 70, 90, 110, 130], "tickSize": -4, "labels": false, "domain": false, "title": null}},
  "y": {"field": "y", "type": "quantitative", "scale": {"domain": [-1, 11], "nice": false, "zero": false}, "axis": null}
 }},
{"data": {"name": "ann"},
 "mark": {"type": "text", "font": "Liberation Sans", "fontSize": 22, "fontWeight": "bold", "color": "#222", "align": "center", "baseline": "middle"},
 "encoding": {
  "x": {"field": "x", "type": "quantitative", "scale": {"domain": [28, 145], "nice": false, "zero": false}, "axis": null},
  "y": {"field": "y", "type": "quantitative", "scale": {"domain": [-1, 11], "nice": false, "zero": false}, "axis": null},
  "text": {"field": "t"}
 }},
{"data": {"values": [{"x": 54.85, "y": 9.92, "t": "β"}]},
 "mark": {"type": "text", "font": "Liberation Sans", "fontSize": 23, "fontStyle": "italic", "fontWeight": "bold", "color": "#222", "align": "center", "baseline": "middle"},
 "encoding": {
  "x": {"field": "x", "type": "quantitative", "scale": {"domain": [28, 145], "nice": false, "zero": false}, "axis": null},
  "y": {"field": "y", "type": "quantitative", "scale": {"domain": [-1, 11], "nice": false, "zero": false}, "axis": null},
  "text": {"field": "t"}
 }},
{"data": {"values": [{"x": 57.9, "y": 9.92, "t": "= 206℃/min"}]},
 "mark": {"type": "text", "font": "Liberation Sans", "fontSize": 22, "fontWeight": "bold", "color": "#222", "align": "left", "baseline": "middle"},
 "encoding": {
  "x": {"field": "x", "type": "quantitative", "scale": {"domain": [28, 145], "nice": false, "zero": false}, "axis": null},
  "y": {"field": "y", "type": "quantitative", "scale": {"domain": [-1, 11], "nice": false, "zero": false}, "axis": null},
  "text": {"field": "t"}
 }},
{"data": {"values": [{"x": 121.4, "y": 10.21, "t": "F添加：1.3at. %"}]},
 "mark": {"type": "text", "font": "Noto Sans CJK JP", "fontSize": 22, "fontWeight": "bold", "color": "#222", "align": "center", "baseline": "middle"},
 "encoding": {
  "x": {"field": "x", "type": "quantitative", "scale": {"domain": [28, 145], "nice": false, "zero": false}, "axis": null},
  "y": {"field": "y", "type": "quantitative", "scale": {"domain": [-1, 11], "nice": false, "zero": false}, "axis": null},
  "text": {"field": "t"}
 }}
],
"resolve": {"axis": {"x": "independent", "y": "independent"}}
}
